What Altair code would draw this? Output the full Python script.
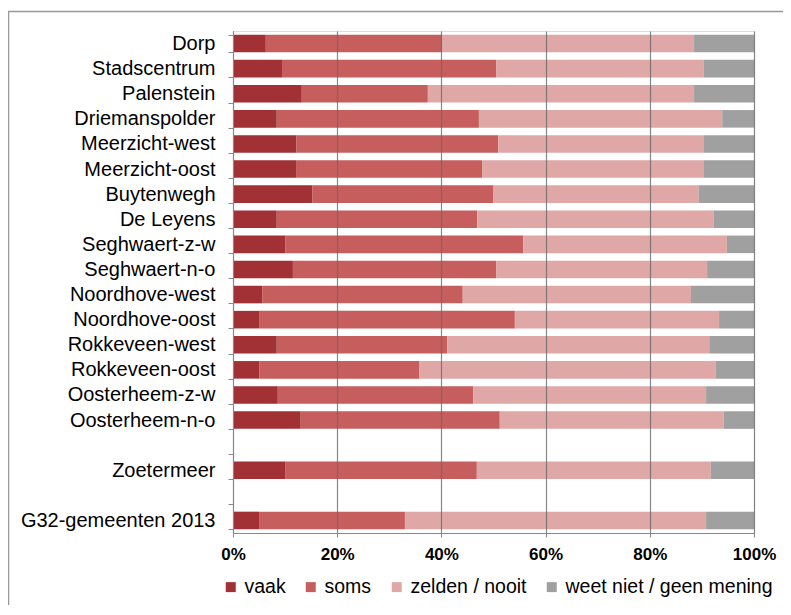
import altair as alt
import pandas as pd

# Row order of the chart (blank rows are spacers)
rows = ["Dorp", "Stadscentrum", "Palenstein", "Driemanspolder", "Meerzicht-west",
        "Meerzicht-oost", "Buytenwegh", "De Leyens", "Seghwaert-z-w", "Seghwaert-n-o",
        "Noordhove-west", "Noordhove-oost", "Rokkeveen-west", "Rokkeveen-oost",
        "Oosterheem-z-w", "Oosterheem-n-o", " ", "Zoetermeer", "  ", "G32-gemeenten 2013"]

areas = ["Dorp", "Stadscentrum", "Palenstein", "Driemanspolder", "Meerzicht-west",
         "Meerzicht-oost", "Buytenwegh", "De Leyens", "Seghwaert-z-w", "Seghwaert-n-o",
         "Noordhove-west", "Noordhove-oost", "Rokkeveen-west", "Rokkeveen-oost",
         "Oosterheem-z-w", "Oosterheem-n-o", "Zoetermeer", "G32-gemeenten 2013"]

series = ["vaak", "soms", "zelden / nooit", "weet niet / geen mening"]
colors = ["#A13134", "#C55E5D", "#DFA8A7", "#A0A0A0"]

vaak = [6.3, 9.4, 13.2, 8.4, 12.2, 12.1, 15.2, 8.4, 10.1, 11.5, 5.6, 5.0, 8.4, 5.1, 8.6, 13.0, 10.0, 5.0]
soms = [33.9, 41.1, 24.2, 38.8, 38.7, 35.7, 34.7, 38.5, 45.6, 39.0, 38.5, 49.1, 32.7, 30.7, 37.5, 38.2, 36.8, 28.0]
zelden = [48.3, 39.8, 51.1, 46.7, 39.5, 42.6, 39.5, 45.4, 39.1, 40.5, 43.8, 39.2, 50.3, 56.8, 44.7, 43.0, 44.9, 57.8]
weet = [11.5, 9.7, 11.5, 6.1, 9.6, 9.6, 10.6, 7.7, 5.2, 9.0, 12.1, 6.7, 8.6, 7.4, 9.2, 5.8, 8.3, 9.2]

x_ticks = [0, 20, 40, 60, 80, 100]

records = []
for si, (name, vals) in enumerate(zip(series, [vaak, soms, zelden, weet])):
    for a, v in zip(areas, vals):
        records.append({"gebied": a, "antwoord": name, "pct": v, "idx": si})
df = pd.DataFrame(records)

FONT = "Liberation Sans"

bars = alt.Chart(df).mark_bar().encode(
    y=alt.Y("gebied:N", sort=rows,
            scale=alt.Scale(domain=rows, paddingInner=0.3, paddingOuter=0.15),
            axis=alt.Axis(title=None, tickBand="extent", domainColor="#888888",
                          tickColor="#888888", tickSize=5, labelFontSize=20,
                          labelColor="#000000", labelPadding=13, labelLimit=400,
                          labelFont=FONT, zindex=1)),
    x=alt.X("pct:Q", stack="zero",
            scale=alt.Scale(domain=[0, 100], nice=False),
            axis=alt.Axis(title=None, values=x_ticks, labelExpr="datum.value + '%'",
                          labelFontWeight="bold", labelFontSize=17, labelFont=FONT,
                          labelColor="#000000", labelFlush=False, labelPadding=9,
                          grid=True, gridColor="#6a6a6a", gridOpacity=0.8, gridWidth=1.2,
                          tickSize=4, tickColor="#888888", domainColor="#888888",
                          zindex=1)),
    color=alt.Color("antwoord:N",
                    scale=alt.Scale(domain=series, range=colors),
                    legend=alt.Legend(title=None, orient="none", legendX=-12, legendY=546,
                                      direction="horizontal", symbolType="square",
                                      symbolSize=100, symbolStrokeWidth=0,
                                      labelFontSize=19.5, labelFont=FONT, labelColor="#000000",
                                      labelLimit=400, columnPadding=15, labelOffset=4,
                                      padding=0)),
    order=alt.Order("idx:Q"),
)

frame_df = pd.DataFrame({"k": [0]})
frame_left = alt.Chart(frame_df).mark_rule(color="#999999", strokeWidth=1.5).encode(
    x=alt.value(-224.5), y=alt.value(-19.5), y2=alt.value(600))
frame_top = alt.Chart(frame_df).mark_rule(color="#999999", strokeWidth=1.5).encode(
    x=alt.value(-225), x2=alt.value(600), y=alt.value(-19.5))

chart = alt.layer(bars, frame_left, frame_top).properties(
    width=521, height=502,
    padding={"left": 225, "top": 23, "right": 29, "bottom": 72},
    autosize=alt.AutoSizeParams(type="none"),
).configure_view(stroke=None).configure(font=FONT)

chart.save("out.html", embed_options={"renderer": "svg", "actions": False})
